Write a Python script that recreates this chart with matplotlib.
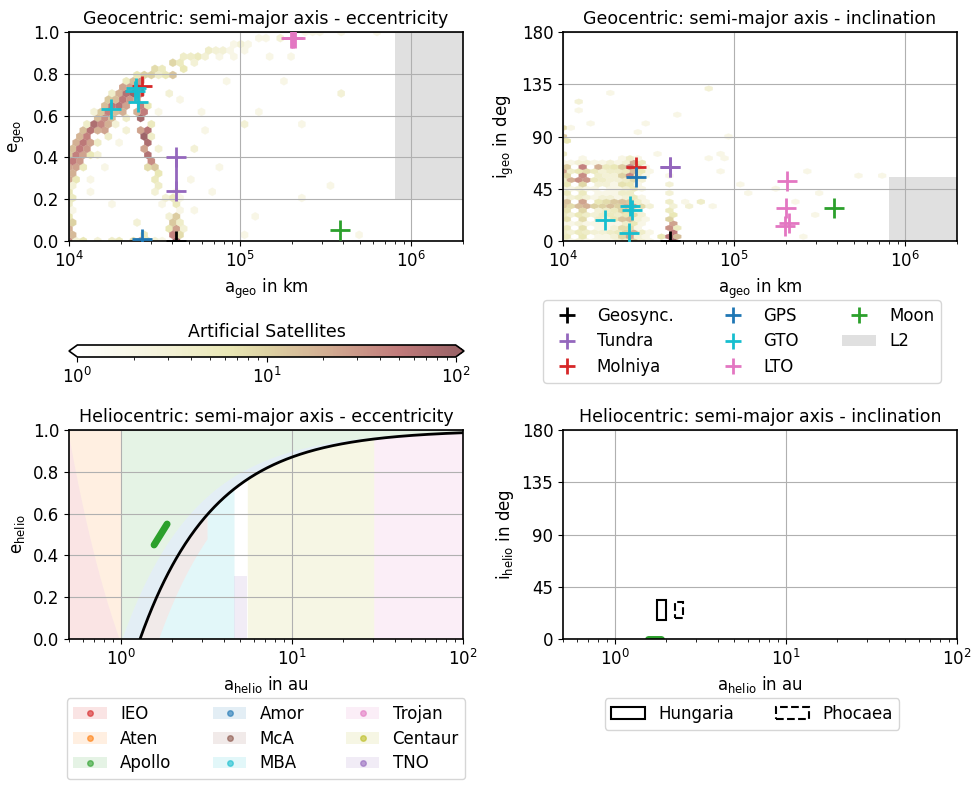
import numpy as np
import matplotlib
matplotlib.use('Agg')
import matplotlib.pyplot as plt
from matplotlib.colors import LogNorm, LinearSegmentedColormap
from matplotlib.patches import Patch, Rectangle
from matplotlib.lines import Line2D

plt.rcParams['font.size'] = 12
plt.rcParams['axes.linewidth'] = 1.2

# --- artificial satellites, hexbin cells: (a [km], e, count) ---
gto_rise = [(1.00e4, 0.34, 25), (1.05e4, 0.37, 35), (1.10e4, 0.40, 45), (1.16e4, 0.43, 50),
            (1.22e4, 0.46, 55), (1.29e4, 0.49, 45), (1.36e4, 0.52, 60), (1.44e4, 0.55, 50),
            (1.52e4, 0.57, 40), (1.62e4, 0.60, 35), (1.72e4, 0.62, 45), (1.84e4, 0.64, 55),
            (1.96e4, 0.66, 60), (2.08e4, 0.68, 55), (2.22e4, 0.70, 65), (2.36e4, 0.72, 70),
            (2.52e4, 0.74, 50), (2.68e4, 0.75, 30)]
gto_rise_upper = [(1.00e4, 0.38, 15), (1.04e4, 0.41, 12), (1.09e4, 0.44, 15), (1.14e4, 0.47, 20),
                  (1.20e4, 0.50, 18), (1.27e4, 0.53, 15), (1.34e4, 0.56, 20), (1.42e4, 0.59, 15),
                  (1.51e4, 0.61, 12), (1.60e4, 0.64, 15), (1.70e4, 0.66, 12), (1.82e4, 0.68, 15),
                  (1.95e4, 0.70, 20), (2.08e4, 0.72, 25), (2.22e4, 0.74, 25), (2.38e4, 0.76, 15),
                  (1.25e4, 0.57, 4), (1.45e4, 0.63, 3), (1.75e4, 0.71, 4), (2.10e4, 0.77, 5),
                  (2.40e4, 0.79, 6), (2.70e4, 0.79, 10)]
gto_rise_lower = [(1.04e4, 0.33, 20), (1.10e4, 0.36, 25), (1.16e4, 0.39, 30), (1.22e4, 0.42, 25),
                  (1.30e4, 0.45, 30), (1.38e4, 0.48, 25), (1.47e4, 0.51, 20), (1.56e4, 0.54, 25),
                  (1.66e4, 0.57, 20), (1.77e4, 0.59, 15), (1.90e4, 0.61, 15), (2.02e4, 0.63, 20),
                  (2.15e4, 0.66, 25), (2.30e4, 0.68, 30), (2.45e4, 0.70, 40), (1.12e4, 0.30, 6),
                  (1.22e4, 0.36, 5), (1.35e4, 0.41, 6), (1.50e4, 0.46, 4), (1.65e4, 0.51, 4),
                  (1.85e4, 0.55, 3), (2.10e4, 0.60, 4), (1.35e4, 0.25, 2), (1.60e4, 0.37, 2),
                  (1.90e4, 0.48, 2), (2.20e4, 0.53, 3)]
gto_desc = [(2.55e4, 0.70, 40), (2.60e4, 0.66, 45), (2.65e4, 0.62, 50), (2.72e4, 0.58, 55),
            (2.78e4, 0.54, 60), (2.85e4, 0.50, 65), (2.92e4, 0.46, 70), (3.00e4, 0.42, 45),
            (3.08e4, 0.38, 25), (3.15e4, 0.35, 12), (3.25e4, 0.31, 6), (3.40e4, 0.26, 4),
            (3.60e4, 0.20, 3), (3.85e4, 0.12, 3), (2.80e4, 0.64, 6), (2.95e4, 0.57, 5),
            (3.10e4, 0.50, 4), (3.25e4, 0.44, 3)]
gto_desc_left = [(2.48e4, 0.66, 25), (2.53e4, 0.62, 20), (2.58e4, 0.58, 30), (2.64e4, 0.54, 25),
                 (2.70e4, 0.50, 30), (2.76e4, 0.46, 25), (2.83e4, 0.42, 20), (2.90e4, 0.38, 12),
                 (2.98e4, 0.34, 8), (3.05e4, 0.30, 5), (3.20e4, 0.24, 3), (3.45e4, 0.17, 2)]
high_e = [(2.9e4, 0.80, 10), (3.2e4, 0.82, 8), (3.5e4, 0.84, 5), (3.9e4, 0.85, 9),
          (4.3e4, 0.86, 5), (4.8e4, 0.87, 4), (5.3e4, 0.88, 4), (5.9e4, 0.89, 5),
          (6.5e4, 0.90, 4), (7.2e4, 0.91, 3), (8.0e4, 0.92, 3), (8.9e4, 0.93, 2),
          (1.0e5, 0.94, 3), (1.12e5, 0.95, 2), (1.25e5, 0.96, 2), (1.45e5, 0.97, 2),
          (1.7e5, 0.98, 3), (2.4e5, 0.99, 2), (2.7e5, 0.99, 2), (3.0e5, 0.99, 2),
          (4.0e5, 0.99, 2), (6.5e5, 0.99, 2), (3.6e4, 0.78, 6), (3.9e4, 0.80, 8),
          (4.5e4, 0.82, 3), (9.5e4, 0.88, 2), (1.1e5, 0.90, 2), (3.3e4, 0.78, 4),
          (4.0e4, 0.81, 5), (4.7e4, 0.83, 3), (5.5e4, 0.85, 3), (6.3e4, 0.87, 3),
          (7.5e4, 0.88, 2), (9.0e4, 0.90, 2)]
geo_col = [(4.22e4, 0.00, 100), (4.22e4, 0.03, 40), (4.22e4, 0.06, 25), (4.22e4, 0.09, 12),
           (4.22e4, 0.13, 8), (4.22e4, 0.17, 5), (4.22e4, 0.21, 3), (4.05e4, 0.00, 20),
           (4.45e4, 0.00, 30), (4.45e4, 0.04, 8), (3.9e4, 0.03, 4), (4.7e4, 0.06, 3),
           (4.1e4, 0.11, 3), (4.4e4, 0.15, 2), (4.0e4, 0.19, 2), (4.6e4, 0.20, 2),
           (4.3e4, 0.25, 2), (4.0e4, 0.07, 6), (4.45e4, 0.10, 4)]
left_col = [(1.0e4, 0.00, 35), (1.0e4, 0.03, 12), (1.0e4, 0.06, 20), (1.0e4, 0.09, 10),
            (1.0e4, 0.12, 6), (1.0e4, 0.16, 4), (1.0e4, 0.20, 5), (1.0e4, 0.24, 6),
            (1.0e4, 0.28, 8), (1.0e4, 0.31, 15), (1.04e4, 0.15, 2), (1.04e4, 0.25, 3),
            (1.04e4, 0.04, 4)]
low_e_row = [(1.1e4, 0.00, 3), (1.25e4, 0.00, 6), (1.45e4, 0.00, 3), (1.7e4, 0.00, 4),
             (2.0e4, 0.00, 5), (2.3e4, 0.00, 8), (2.65e4, 0.00, 25), (2.9e4, 0.00, 6),
             (3.3e4, 0.00, 3), (3.6e4, 0.00, 2), (2.65e4, 0.03, 5)]
scatter_ae = [(1.3e4, 0.30, 2), (1.5e4, 0.42, 3), (1.8e4, 0.17, 2), (2.5e4, 0.07, 3),
              (3.3e4, 0.63, 2), (3.8e4, 0.72, 3), (4.6e4, 0.68, 2),
              (5.5e4, 0.45, 3), (6.5e4, 0.52, 2), (7.5e4, 0.36, 2), (8.5e4, 0.78, 2),
              (1.05e5, 0.55, 3), (1.3e5, 0.62, 2), (1.55e5, 0.88, 2), (1.8e5, 0.75, 2),
              (2.2e5, 0.56, 2), (3.8e5, 0.72, 3), (3.4e5, 0.27, 2), (5.0e5, 0.04, 2),
              (1.1e5, 0.03, 2), (2.3e5, 0.21, 2), (7.0e4, 0.22, 2), (5.0e4, 0.30, 2),
              (1.2e5, 0.12, 2), (2.0e5, 0.90, 2), (5.2e4, 0.14, 2), (6.0e4, 0.60, 2)]

# inclination table for the dense low orbits: columns a [km], rows i [deg], cell counts
tab_a = [1.00e4, 1.11e4, 1.24e4, 1.37e4, 1.53e4, 1.70e4, 1.89e4, 2.10e4, 2.33e4, 2.59e4, 2.88e4, 3.20e4]
tab_i = [71.25, 67.5, 63.75, 60, 56.25, 52.5, 48.75, 45, 41.25, 37.5, 33.75, 30,
         26.25, 22.5, 18.75, 15, 11.25, 7.5, 3.75, 0]
tab_n = [[0, 0, 2, 0, 0, 0, 0, 0, 2, 4, 2, 0],
         [2, 2, 3, 3, 2, 2, 3, 2, 3, 20, 5, 0],
         [8, 3, 15, 30, 20, 5, 6, 3, 8, 45, 10, 2],
         [25, 4, 6, 8, 5, 3, 4, 4, 5, 15, 6, 2],
         [6, 3, 30, 6, 4, 3, 3, 4, 6, 40, 5, 2],
         [4, 20, 35, 30, 5, 4, 3, 3, 4, 8, 3, 0],
         [3, 3, 5, 4, 3, 3, 2, 3, 4, 6, 2, 0],
         [2, 2, 3, 2, 2, 0, 2, 2, 3, 5, 2, 0],
         [3, 2, 2, 3, 2, 2, 2, 2, 2, 4, 0, 0],
         [2, 3, 4, 3, 2, 3, 3, 2, 3, 5, 2, 0],
         [8, 6, 15, 10, 6, 8, 12, 6, 8, 12, 4, 2],
         [12, 8, 15, 20, 10, 10, 15, 10, 20, 25, 8, 3],
         [4, 3, 5, 4, 3, 4, 5, 4, 6, 10, 3, 0],
         [5, 3, 6, 4, 3, 4, 5, 4, 6, 8, 3, 0],
         [4, 3, 5, 3, 4, 3, 6, 5, 8, 15, 3, 2],
         [2, 2, 3, 2, 2, 2, 2, 2, 4, 6, 2, 0],
         [3, 2, 4, 3, 2, 2, 3, 3, 5, 8, 2, 0],
         [4, 3, 5, 4, 3, 3, 4, 5, 10, 20, 4, 2],
         [3, 2, 3, 3, 2, 2, 3, 3, 6, 25, 3, 2],
         [3, 2, 3, 2, 2, 2, 2, 3, 4, 10, 3, 2]]
geo_col_i = [(4.22e4, 0, 100), (4.22e4, 3.75, 60), (4.22e4, 7.5, 50), (4.22e4, 11.25, 35),
             (4.22e4, 15, 25), (4.22e4, 18.75, 10), (4.22e4, 22.5, 6), (4.22e4, 26.25, 5),
             (4.22e4, 33.75, 4), (4.22e4, 41.25, 3), (4.22e4, 48.75, 3), (4.22e4, 56.25, 2),
             (4.5e4, 3.75, 15), (4.5e4, 11.25, 5), (3.95e4, 3.75, 6), (4.5e4, 30, 3)]
left_col_i = [(1.0e4, 98, 8), (1.02e4, 92, 12), (1.0e4, 86, 6), (1.0e4, 75, 4)]
scatter_ai = [(1.23e4, 121, 3), (1.25e4, 111, 2), (1.95e4, 127, 2), (7.2e4, 133, 3), (1.08e4, 98, 2),
              (2.6e4, 94, 2), (8.3e4, 76, 2), (6.6e4, 35, 2), (9.0e4, 70, 2), (9.5e4, 90, 2),
              (8.5e4, 61, 2), (2.65e5, 58, 2), (2.5e5, 4, 2), (3.0e5, 24, 2), (6.9e4, 73, 2),
              (5.3e4, 35, 2), (1.5e4, 100, 2), (3.4e4, 75, 2), (3.0e4, 100, 2), (1.05e5, 50, 2),
              (1.25e5, 40, 2), (1.7e5, 45, 2), (2.2e5, 33, 2), (3.3e5, 40, 2), (5.5e5, 56, 2),
              (7.0e5, 57, 2), (4.7e4, 110, 2), (5.2e4, 30, 3), (6.5e4, 33, 2), (7.2e4, 30, 2)]

# --- reference orbits ---
geosync_a, geosync_e, geosync_i = [42164], [0.0], [0.0]
tundra_a, tundra_e, tundra_i = [42164, 42164], [0.24, 0.40], [63.4, 63.4]
molniya_a, molniya_e, molniya_i = [26600], [0.74], [63.4]
gps_a, gps_e, gps_i = [26560], [0.01], [55.0]
gto_a = [17700, 24600, 25400, 24200]
gto_e = [0.63, 0.73, 0.667, 0.72]
gto_i = [18.0, 30.0, 27.0, 6.6]
lto_a = [203000, 200000, 210000, 198000]
lto_e = [0.97, 0.97, 0.97, 0.97]
lto_i = [51.7, 28.7, 15.8, 13.0]
moon_a, moon_e, moon_i = [384400], [0.055], [28.6]
l2_a = (8.0e5, 2.0e6)
l2_e = (0.2, 1.0)
l2_i = (0.0, 55.0)

# --- heliocentric class boundaries [au] ---
q_earth_in, q_earth_out = 0.983, 1.017
q_amor, q_mars = 1.3, 1.666
a_mca_max, a_mba_max, a_trojan_max, a_centaur_max = 3.2, 4.6, 5.5, 30.1
e_trojan_max = 0.3
neo_track_a = [1.57, 1.87]
neo_track_e = [0.45, 0.55]
neo_track_i = [0.0, 0.0]
hungaria_a, hungaria_i = (1.78, 2.0), (16.0, 34.0)
phocaea_a, phocaea_i = (2.25, 2.5), (18.0, 32.0)

class_names = ['IEO', 'Aten', 'Apollo', 'Amor', 'McA', 'MBA', 'Trojan', 'Centaur', 'TNO']
class_colors = ['tab:red', 'tab:orange', 'tab:green', 'tab:blue', 'tab:brown',
                'tab:cyan', 'tab:pink', 'tab:olive', 'tab:purple']

W, H = 975, 786
fig = plt.figure(figsize=(W / 100, H / 100), dpi=100)


def px_axes(x0, y0, x1, y1):
    return fig.add_axes([x0 / W, 1 - y1 / H, (x1 - x0) / W, (y1 - y0) / H])


ax_ae = px_axes(69, 32, 463, 241)
ax_ai = px_axes(563, 32, 957, 241)
ax_he = px_axes(69, 430, 463, 639)
ax_hi = px_axes(563, 430, 957, 639)
cax = px_axes(69, 345, 464, 357)

cmap = LinearSegmentedColormap.from_list(
    'sat', [(0.0, '#ffffff'), (0.22, '#f4f2da'), (0.4, '#e9e7b5'), (0.5, '#ddd2a3'),
            (0.65, '#d3b094'), (0.85, '#c17b7b'), (1.0, '#9c6468')])
cmap.set_under('white')
cmap.set_over('#9c6468')
norm = LogNorm(vmin=1, vmax=100)

ae = np.array(gto_rise + gto_rise_upper + gto_rise_lower + gto_desc + gto_desc_left + high_e
              + geo_col + left_col + low_e_row + scatter_ae)
tab = [(a, i, n) for i, row in zip(tab_i, tab_n) for a, n in zip(tab_a, row) if n > 0]
ai = np.array(tab + geo_col_i + left_col_i + scatter_ai)

xext = (4, np.log10(2e6))
hb = ax_ae.hexbin(ae[:, 0], ae[:, 1], C=ae[:, 2], reduce_C_function=np.sum, xscale='log',
                  gridsize=(55, 17), extent=(xext[0], xext[1], 0, 1), cmap=cmap, norm=norm,
                  linewidths=0.2, edgecolors='face')
ax_ai.hexbin(ai[:, 0], ai[:, 1], C=ai[:, 2], reduce_C_function=np.sum, xscale='log',
             gridsize=(50, 24), extent=(xext[0], xext[1], 0, 180), cmap=cmap, norm=norm,
             linewidths=0.2, edgecolors='face')

mk = dict(marker='+', ms=15, mew=2, ls='', zorder=3)
for ax, yv in ((ax_ae, 'e'), (ax_ai, 'i')):
    y = {'e': (geosync_e, tundra_e, molniya_e, gps_e, gto_e, lto_e, moon_e),
         'i': (geosync_i, tundra_i, molniya_i, gps_i, gto_i, lto_i, moon_i)}[yv]
    ax.plot(tundra_a, y[1], color='tab:purple', lw=2, zorder=3)
    ax.plot(geosync_a, y[0], color='black', label='Geosync.', **mk)
    ax.plot(tundra_a, y[1], color='tab:purple', label='Tundra', **mk)
    ax.plot(molniya_a, y[2], color='tab:red', label='Molniya', **mk)
    ax.plot(gps_a, y[3], color='tab:blue', label='GPS', **mk)
    ax.plot(gto_a, y[4], color='tab:cyan', label='GTO', **mk)
    ax.plot(lto_a, y[5], color='tab:pink', label='LTO', **mk)
    ax.plot(moon_a, y[6], color='tab:green', label='Moon', **mk)
    ax.set_xscale('log')
    ax.set_xlim(1e4, 2e6)
    ax.grid(True)
    ax.set_xlabel(r'a$_\mathrm{geo}$ in km')

ax_ae.fill_between(l2_a, l2_e[0], l2_e[1], color='#e0e0e0', lw=0, zorder=0.5)
ax_ai.fill_between(l2_a, l2_i[0], l2_i[1], color='#e0e0e0', lw=0, zorder=0.5, label='L2')

ax_ae.set_ylim(0, 1)
ax_ae.set_ylabel(r'e$_\mathrm{geo}$')
ax_ae.set_title('Geocentric: semi-major axis - eccentricity', fontsize=12.5)
ax_ai.set_ylim(0, 180)
ax_ai.set_yticks([0, 45, 90, 135, 180])
ax_ai.set_ylabel(r'i$_\mathrm{geo}$ in deg')
ax_ai.set_title('Geocentric: semi-major axis - inclination', fontsize=12.5)

h, l = ax_ai.get_legend_handles_labels()
order = ['Geosync.', 'Tundra', 'Molniya', 'GPS', 'GTO', 'LTO', 'Moon', 'L2']
hd = dict(zip(l, h))
ax_ai.legend([hd[k] for k in order], order, ncol=3, loc='upper center',
             bbox_to_anchor=(742 / W, 1 - 292 / H), bbox_transform=fig.transFigure,
             markerscale=0.75, columnspacing=2.6, labelspacing=0.45)

cb = fig.colorbar(hb, cax=cax, orientation='horizontal', extend='both', extendfrac=0.022)
cax.set_title('Artificial Satellites', fontsize=12.5)

# --- heliocentric a-e ---
def band(ax, a0, a1, lo, hi, color):
    a = np.logspace(np.log10(a0), np.log10(a1), 300)
    ax.fill_between(a, np.clip(lo(a), 0, 1), np.clip(hi(a), 0, 1), color=color, alpha=0.12, lw=0)

zero = lambda a: np.zeros_like(a)
one = lambda a: np.ones_like(a)
band(ax_he, 0.5, q_earth_in, zero, lambda a: q_earth_in / a - 1, 'tab:red')
band(ax_he, 0.5, 1.0, lambda a: q_earth_in / a - 1, one, 'tab:orange')
band(ax_he, 1.0, 100, lambda a: 1 - q_earth_out / a, one, 'tab:green')
band(ax_he, q_earth_out, 100, lambda a: 1 - q_amor / a, lambda a: 1 - q_earth_out / a, 'tab:blue')
band(ax_he, q_amor, a_mca_max, lambda a: 1 - q_mars / a, lambda a: 1 - q_amor / a, 'tab:brown')
band(ax_he, q_mars, a_mba_max, zero,
     lambda a: np.where(a < a_mca_max, 1 - q_mars / a, 1 - q_amor / a), 'tab:cyan')
band(ax_he, a_mba_max, a_trojan_max, zero, lambda a: e_trojan_max + 0 * a, 'tab:purple')
band(ax_he, a_trojan_max, a_centaur_max, zero, lambda a: 1 - q_amor / a, 'tab:olive')
band(ax_he, a_centaur_max, 100, zero, lambda a: 1 - q_amor / a, 'tab:pink')

a_curve = np.logspace(np.log10(q_amor), 2, 400)
ax_he.plot(a_curve, 1 - q_amor / a_curve, color='black', lw=2)
ax_he.plot(neo_track_a, neo_track_e, color='tab:green', lw=5, solid_capstyle='round')
ax_he.set_xscale('log')
ax_he.set_xlim(0.5, 100)
ax_he.set_ylim(0, 1)
ax_he.grid(True)
ax_he.set_xlabel(r'a$_\mathrm{helio}$ in au')
ax_he.set_ylabel(r'e$_\mathrm{helio}$')
ax_he.set_title('Heliocentric: semi-major axis - eccentricity', fontsize=12.5)

handles = [(Patch(facecolor=c, alpha=0.12, lw=0),
            Line2D([], [], marker='o', ls='', color=c, alpha=0.6, ms=4)) for c in class_colors]
ax_he.legend(handles, class_names, ncol=3, loc='upper center',
             bbox_to_anchor=(266 / W, 1 - 690 / H), bbox_transform=fig.transFigure,
             columnspacing=2.5, labelspacing=0.4)

# --- heliocentric a-i ---
ax_hi.add_patch(Rectangle((hungaria_a[0], hungaria_i[0]), hungaria_a[1] - hungaria_a[0],
                          hungaria_i[1] - hungaria_i[0], fill=False, ec='black', lw=1.5,
                          label='Hungaria'))
ax_hi.add_patch(Rectangle((phocaea_a[0], phocaea_i[0]), phocaea_a[1] - phocaea_a[0],
                          phocaea_i[1] - phocaea_i[0], fill=False, ec='black', lw=1.5, ls='--',
                          label='Phocaea'))
ax_hi.plot(neo_track_a, neo_track_i, color='tab:green', lw=5, solid_capstyle='round')
ax_hi.set_xscale('log')
ax_hi.set_xlim(0.5, 100)
ax_hi.set_ylim(0, 180)
ax_hi.set_yticks([0, 45, 90, 135, 180])
ax_hi.grid(True)
ax_hi.set_xlabel(r'a$_\mathrm{helio}$ in au')
ax_hi.set_ylabel(r'i$_\mathrm{helio}$ in deg')
ax_hi.set_title('Heliocentric: semi-major axis - inclination', fontsize=12.5)
ax_hi.legend(ncol=2, loc='upper center', bbox_to_anchor=(752 / W, 1 - 690 / H),
             bbox_transform=fig.transFigure, columnspacing=2.5)

fig.savefig('out.png', dpi=100)
